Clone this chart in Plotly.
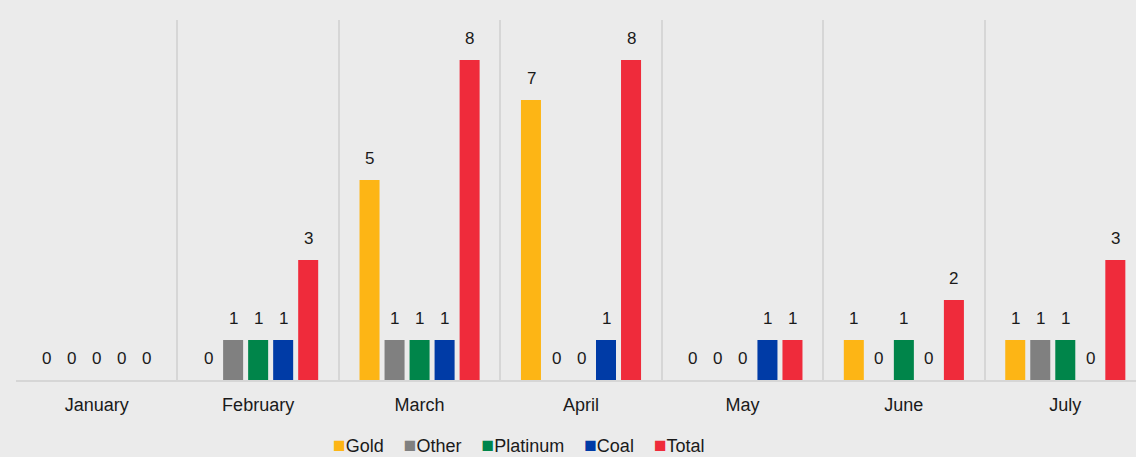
import plotly.graph_objects as go

months = ["January", "February", "March", "April", "May", "June", "July"]
series_names = ["Gold", "Other", "Platinum", "Coal", "Total"]
gold = [0, 0, 5, 7, 0, 1, 1]
other = [0, 1, 1, 0, 0, 0, 1]
platinum = [0, 1, 1, 0, 0, 1, 1]
coal = [0, 1, 1, 1, 1, 0, 0]
total = [0, 3, 8, 8, 1, 2, 3]
colors = ["#FDB515", "#808080", "#00854A", "#003BA6", "#EF2B3B"]

values = [gold, other, platinum, coal, total]
FONT = "Liberation Sans, Arial, sans-serif"

fig = go.Figure()
for name, vals, col in zip(series_names, values, colors):
    fig.add_trace(go.Bar(name=name, x=months, y=vals, marker_color=col,
                         marker_line_width=0, hoverinfo="x+y+name", showlegend=False))

annotations = []
slot = 25.0
for i, vals in enumerate(values):
    for m, v in zip(months, vals):
        annotations.append(dict(x=m, y=v, xref="x", yref="y", text=str(v),
                                showarrow=False, yanchor="bottom",
                                xshift=(i - 2) * slot, yshift=10,
                                font=dict(family=FONT, size=17, color="#1a1a1a")))

# legend built as a single text line with coloured squares
sep = "&nbsp;&nbsp;&nbsp;&nbsp;"
legend_text = sep.join(
    f"<span style='color:{c};font-size:21px'>■</span>{n}" for n, c in zip(series_names, colors)
)
plot_left, plot_w = 16, 1120
annotations.append(dict(x=(519 - plot_left) / plot_w, y=-0.18, xref="paper", yref="paper",
                        xanchor="center", yanchor="middle", showarrow=False,
                        text=legend_text, font=dict(family=FONT, size=18, color="#1a1a1a")))

fig.update_layout(
    width=1136, height=457,
    margin=dict(l=16, r=0, t=20, b=77),
    paper_bgcolor="#ebebeb", plot_bgcolor="#ebebeb",
    barmode="group", bargap=0.225, bargroupgap=0.2,
    font=dict(family=FONT, size=18, color="#1a1a1a"),
    showlegend=False,
    annotations=annotations,
)
fig.update_xaxes(type="category", range=[-0.5, -0.5 + 1120 / (1130 / 7)],
                 tickson="boundaries", showgrid=True, gridcolor="#d6d6d6", gridwidth=2,
                 showline=True, linecolor="#d6d6d6", linewidth=2, ticks="",
                 ticklabelstandoff=7, tickfont=dict(family=FONT, size=18, color="#1a1a1a"),
                 fixedrange=True)
fig.update_yaxes(range=[0, 9], showgrid=False, zeroline=False, showticklabels=False,
                 showline=False, fixedrange=True)

fig.write_html("out.html", config={"displayModeBar": False},
               post_script="document.body.style.margin='0';")
